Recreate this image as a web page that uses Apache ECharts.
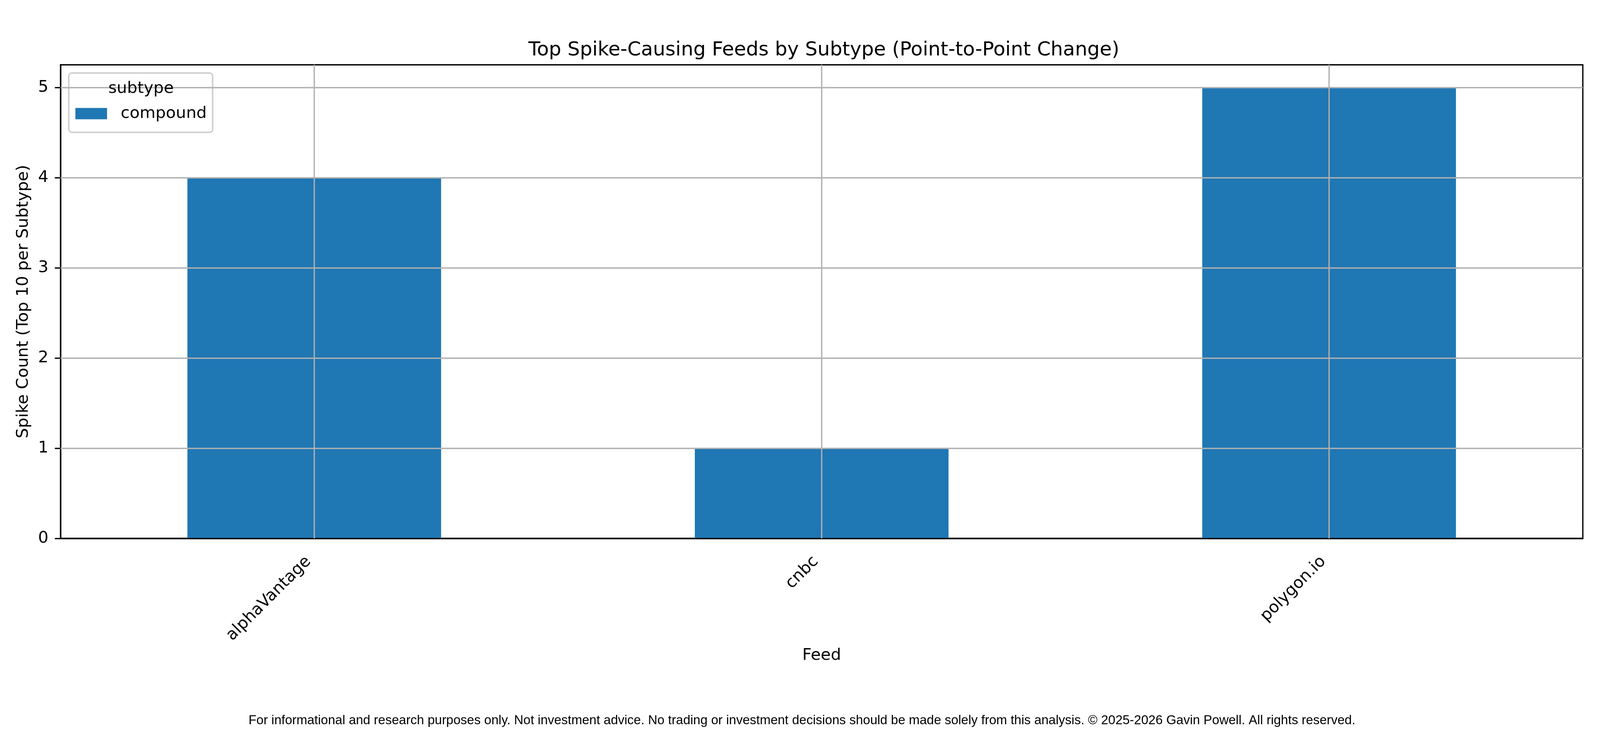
<!DOCTYPE html>
<html>
<head>
    <meta charset="utf-8">
    <title>Top Spike-Causing Feeds</title>
    <script src="https://cdn.jsdelivr.net/npm/echarts@6/dist/echarts.min.js"></script>
    <style>
        html, body { margin: 0; padding: 0; background: #fff; overflow: hidden; }
        #main { width: 100vw; height: 1880px; }
    </style>
</head>
<body>
    <div id="main"></div>
    <script>
        // data
        var feeds = ['alphaVantage', 'cnbc', 'polygon.io'];
        var compound = [4, 1, 5];
        var yTicks = [1, 2, 3, 4, 5];

        var font = 'DejaVu Sans';
        var fs = 41.7;      // 10pt at 300 dpi
        var gridColor = '#b0b0b0';

        // the layout was measured on a 4200 px wide figure; squeeze x to the real viewport
        var sx = (window.innerWidth || 4200) / 4200;
        function X(v) { return Math.round(v * sx); }

        var myChart = echarts.init(document.getElementById('main'));

        var option = {
            animation: false,
            backgroundColor: '#ffffff',
            title: [{
                text: 'Top Spike-Causing Feeds by Subtype (Point-to-Point Change)',
                left: X(2157),
                top: 99,
                textAlign: 'center',
                textStyle: { fontFamily: font, fontSize: 50, fontWeight: 'normal', color: '#000' }
            }, {
                // legend title
                text: 'subtype',
                left: X(365),
                top: 201,
                textAlign: 'center',
                textStyle: { fontFamily: font, fontSize: fs, fontWeight: 'normal', color: '#000' }
            }, {
                text: 'For informational and research purposes only. Not investment advice. No trading or investment decisions should be made solely from this analysis. \u00a9 2025-2026 Gavin Powell. All rights reserved.',
                left: X(2100),
                top: 1824,
                textAlign: 'center',
                textStyle: { fontFamily: 'Liberation Sans', fontSize: 33, fontWeight: 'normal', color: '#000' }
            }],
            legend: {
                left: X(180),
                top: 187,
                orient: 'vertical',
                data: ['compound'],
                padding: [83, X(15), 27, X(17)],
                itemWidth: X(83),
                itemHeight: 29,
                icon: 'rect',
                backgroundColor: 'rgba(255,255,255,0.8)',
                borderColor: '#d0d0d0',
                borderWidth: 4,
                borderRadius: 8,
                textStyle: { fontFamily: font, fontSize: fs, color: '#000', padding: [0, 0, 0, X(31)] }
            },
            grid: {
                left: X(159),
                right: X(45),
                top: 166,
                bottom: 501,
                show: true,
                borderColor: '#000',
                borderWidth: 3.3,
                backgroundColor: 'transparent'
            },
            xAxis: {
                type: 'category',
                data: feeds,
                z: 3,
                name: 'Feed',
                nameLocation: 'middle',
                nameGap: 279,
                nameTextStyle: { fontFamily: font, fontSize: fs, color: '#000' },
                axisLine: { lineStyle: { color: '#000', width: 3.3 } },
                axisTick: { alignWithLabel: true, length: 14.6, lineStyle: { color: '#000', width: 3.3 } },
                axisLabel: { rotate: 45, margin: 38, padding: [0, 21, 0, 0], fontFamily: font, fontSize: fs, color: '#000' },
                splitLine: { show: false }
            },
            yAxis: {
                type: 'value',
                min: 0,
                max: 5.25,
                interval: 1,
                z: 3,
                name: 'Spike Count (Top 10 per Subtype)',
                nameLocation: 'middle',
                nameGap: 74,
                nameTextStyle: { fontFamily: font, fontSize: fs, color: '#000' },
                axisLine: { show: true, lineStyle: { color: '#000', width: 3.3 } },
                axisTick: { show: true, length: 14.6, lineStyle: { color: '#000', width: 3.3 } },
                axisLabel: { showMaxLabel: false, margin: 31, fontFamily: font, fontSize: fs, color: '#000' },
                splitLine: { show: false }
            },
            series: [{
                name: 'compound',
                type: 'bar',
                data: compound,
                barWidth: '50%',
                itemStyle: { color: '#1f77b4' },
                markLine: {
                    silent: true,
                    symbol: 'none',
                    label: { show: false },
                    lineStyle: { color: gridColor, width: 3.3, type: 'solid' },
                    emphasis: { disabled: true },
                    // grid lines drawn above the bars, as in the source
                    data: feeds.map(function (f) { return { xAxis: f }; })
                        .concat(yTicks.map(function (v) { return { yAxis: v }; }))
                }
            }]
        };

        myChart.setOption(option);
    </script>
</body>
</html>
